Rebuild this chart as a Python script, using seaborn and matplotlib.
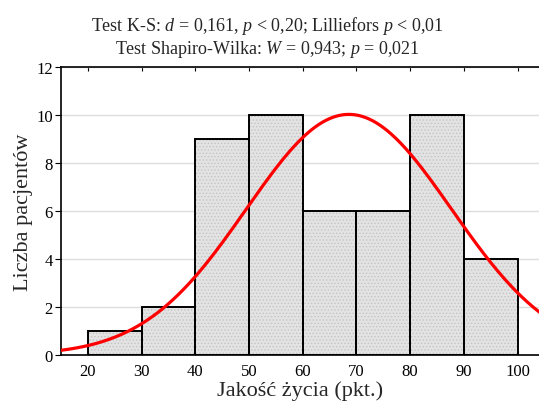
import numpy as np
import pandas as pd
import matplotlib
matplotlib.use("Agg")
import matplotlib.pyplot as plt
import seaborn as sns

# Histogram of quality-of-life scores
bin_edges = [20, 30, 40, 50, 60, 70, 80, 90, 100]
bin_mids = [25, 35, 45, 55, 65, 75, 85, 95]
counts = [1, 2, 9, 10, 6, 6, 10, 4]

# Fitted normal distribution parameters
fit_mean = 68.6
fit_sd = 19.1
n_total = 48
bin_width = 10

x_ticks = [20, 30, 40, 50, 60, 70, 80, 90, 100]
y_ticks = [0, 2, 4, 6, 8, 10, 12]

title_lines = [
    r"Test K-S: $d$ = 0,161, $p$ < 0,20; Lilliefors $p$ < 0,01",
    r"Test Shapiro-Wilka: $W$ = 0,943; $p$ = 0,021",
]
x_label = "Jakość życia (pkt.)"
y_label = "Liczba pacjentów"

sns.set_style("white")
plt.rcParams["font.family"] = ["Liberation Serif", "DejaVu Serif"]
plt.rcParams["mathtext.fontset"] = "custom"
plt.rcParams["mathtext.rm"] = "Liberation Serif"
plt.rcParams["mathtext.it"] = "Liberation Serif:italic"
plt.rcParams["hatch.color"] = "#c4c4c4"
plt.rcParams["hatch.linewidth"] = 0.6

fig = plt.figure(figsize=(5.39, 4.10), dpi=100)
ax = fig.add_axes([61 / 539, 1 - 356 / 410, 1 - 61 / 539, (356 - 68) / 410])

df = pd.DataFrame({"score": bin_mids, "n": counts})

# hatched fill
sns.histplot(data=df, x="score", weights="n", bins=bin_edges, ax=ax,
             color="#e3e3e3", alpha=1, hatch=".....", edgecolor="#c4c4c4",
             linewidth=0, zorder=2)
# black outlines
sns.histplot(data=df, x="score", weights="n", bins=bin_edges, ax=ax,
             facecolor="none", alpha=1, edgecolor="black", linewidth=1.4,
             zorder=3)

# normal curve scaled to counts
xs = np.linspace(15, 104.5, 400)
ys = n_total * bin_width / (fit_sd * np.sqrt(2 * np.pi)) * np.exp(-0.5 * ((xs - fit_mean) / fit_sd) ** 2)
sns.lineplot(x=xs, y=ys, ax=ax, color="#ff0000", linewidth=2.3, zorder=4)

ax.set_xlim(15, 104)
ax.set_ylim(0, 12)
ax.set_xticks(x_ticks)
ax.set_yticks(y_ticks)
ax.yaxis.grid(True, color="#dddddd", linewidth=1.0, zorder=0)
ax.set_axisbelow(True)

for side in ["left", "bottom", "top"]:
    ax.spines[side].set_visible(True)
    ax.spines[side].set_color("black")
    ax.spines[side].set_linewidth(1.2)
ax.spines["right"].set_visible(False)

ax.tick_params(axis="x", which="both", top=True, bottom=True, direction="in",
               length=3, width=0.8, labelsize=12, pad=6, colors="black")
ax.tick_params(axis="y", which="both", left=True, direction="out",
               length=4, width=0.8, labelsize=12, pad=2, colors="black")

ax.set_xlabel(x_label, fontsize=16, labelpad=1)
ax.set_ylabel(y_label, fontsize=16, labelpad=2)

fig.text(0.496, 1 - 26 / 410, title_lines[0], ha="center", va="center", fontsize=13)
fig.text(0.496, 1 - 49 / 410, title_lines[1], ha="center", va="center", fontsize=13)

fig.savefig("out.png", dpi=100)
